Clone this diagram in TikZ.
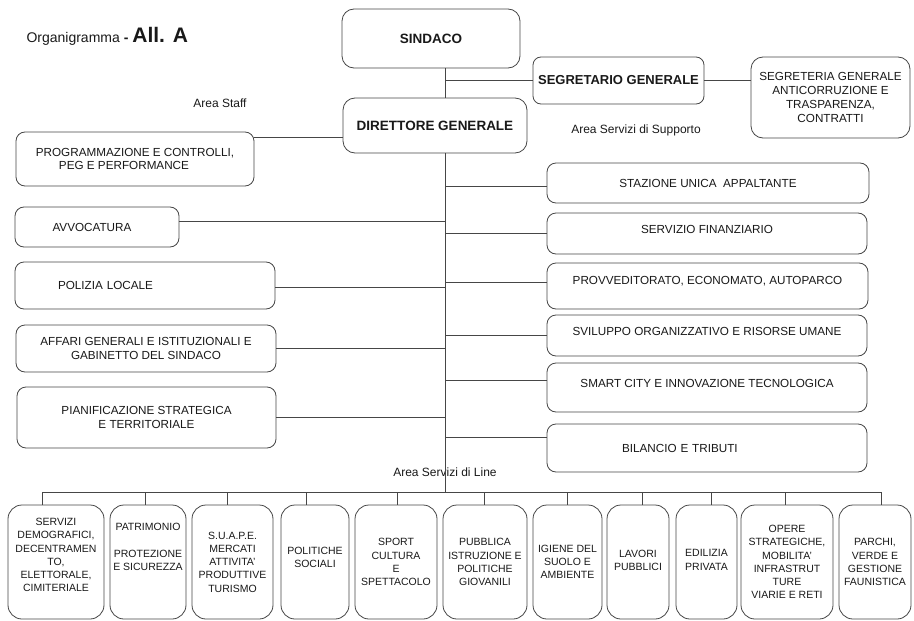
\documentclass[tikz,border=0pt]{standalone}
\usepackage{fontspec}
\setmainfont{Liberation Sans}
\definecolor{inkgray}{RGB}{25,25,25}
\definecolor{linegray}{RGB}{70,70,70}
\tikzset{
  box/.style={draw=linegray, line width=0.8pt, rounded corners=9pt, fill=white, text=inkgray,
    align=center, inner sep=1pt, font=\fontsize{11.7}{13.3}\selectfont},
  headbox/.style={box, rounded corners=12pt, font=\fontsize{13.5}{16}\selectfont\bfseries},
  linebox/.style={box, rounded corners=14pt, font=\fontsize{10.5}{13.3}\selectfont},
  arealabel/.style={text=inkgray, font=\fontsize{12}{14}\selectfont},
  link/.style={draw=linegray, line width=0.8pt},
}
\newcommand{\unitbox}[6]{%
  \node[linebox, minimum width=#3pt, minimum height=114pt, text depth=#5pt] (#1) at (#2,562) {#6};
  \draw[link] (#1.north -| #4,0) -- (#4,0 |- bus);%
}

\begin{document}
\begin{tikzpicture}[x=1pt,y=-1pt]
  \useasboundingbox (0,0) rectangle (914,621);

  \node[anchor=base west, text=inkgray, font=\fontsize{14}{16}\selectfont] (title) at (23,42)
    {Organigramma {\bfseries -} {\fontsize{21}{24}\selectfont\bfseries All. A}};

  % vertice
  \node[headbox, minimum width=178pt, minimum height=59pt] (sindaco) at (431,38.5) {SINDACO};
  \node[headbox, minimum width=184pt, minimum height=55pt] (dg) at (435,125.5) {DIRETTORE GENERALE};
  \node[headbox, rounded corners=8pt, font=\fontsize{13}{15}\selectfont\bfseries,
    minimum width=171pt, minimum height=47pt] (seg) at (618.5,80.5) {SEGRETARIO GENERALE};
  \node[box, rounded corners=12pt, font=\fontsize{11.7}{14.3}\selectfont,
    minimum width=159pt, minimum height=81pt] (segr) at (830.5,97.5)
    {SEGRETERIA GENERALE\\ANTICORRUZIONE E\\TRASPARENZA,\\CONTRATTI};

  \node[arealabel] (staff) at (220,103) {Area Staff};
  \node[arealabel] (supporto) at (636,130) {Area Servizi di Supporto};
  \node[arealabel] (linea) at (445,472) {Area Servizi di Line};

  % area staff
  \node[box, minimum width=238pt, minimum height=54pt] (prog) at (135,159)
    {PROGRAMMAZIONE E CONTROLLI,\\PEG E PERFORMANCE\hspace*{22pt}};
  \node[box, minimum width=164pt, minimum height=40pt] (avv) at (97,227) {AVVOCATURA\hspace*{10pt}};
  \node[box, minimum width=260pt, minimum height=47pt, text width=174pt, inner xsep=43pt,
    align=left] (pol) at (145,285.5) {POLIZIA LOCALE};
  \node[box, minimum width=260pt, minimum height=47pt] (aff) at (146,348.5)
    {AFFARI GENERALI E ISTITUZIONALI E\\GABINETTO DEL SINDACO};
  \node[box, minimum width=259pt, minimum height=61pt] (pian) at (146.5,417.5)
    {PIANIFICAZIONE STRATEGICA\\E TERRITORIALE};

  % area servizi di supporto
  \node[box, minimum width=322pt, minimum height=40pt] (sua) at (708,183) {STAZIONE UNICA\ \ APPALTANTE};
  \node[box, minimum width=320pt, minimum height=41pt, text depth=9pt] (fin) at (707,233.5)
    {SERVIZIO FINANZIARIO};
  \node[box, minimum width=321pt, minimum height=46pt, text depth=12pt] (prov) at (707.5,286)
    {PROVVEDITORATO, ECONOMATO, AUTOPARCO};
  \node[box, minimum width=320pt, minimum height=41pt, text depth=9pt] (svi) at (707,335.5)
    {SVILUPPO ORGANIZZATIVO E RISORSE UMANE};
  \node[box, minimum width=320pt, minimum height=49pt, text depth=9pt] (smart) at (707,387.5)
    {SMART CITY E INNOVAZIONE TECNOLOGICA};
  \node[box, minimum width=320pt, minimum height=48pt, text width=170pt, inner xsep=75pt,
    align=left] (bil) at (707,448) {BILANCIO E TRIBUTI};

  \coordinate (bus) at (445,492);
  \coordinate (busL) at (42,492);
  \coordinate (busR) at (881,492);

  \draw[link] (sindaco.south -| bus) -- (dg.north -| bus);
  \draw[link] (dg.south -| bus) -- (bus);
  \draw[link] (seg.west -| bus) -- (seg.west);
  \draw[link] (seg.east) -- (seg.east -| segr.west);
  \draw[link] (prog.east |- 0,137) -- (dg.west |- 0,137);
  \foreach \nm/\dy in {avv/6,pol/-2,aff/0,pian/0}
    \draw[link] ([yshift=\dy pt]\nm.east) -- ([yshift=\dy pt]\nm.east -| bus);
  \foreach \nm/\dy in {sua/-3,fin/0,prov/4,svi/0,smart/7,bil/11}
    \draw[link] ([yshift=\dy pt]\nm.west -| bus) -- ([yshift=\dy pt]\nm.west);
  \draw[link] (busL) -- (busR);

  % area servizi di line
  \unitbox{demo}{56}{96}{42}{14}{SERVIZI\\DEMOGRAFICI,\\DECENTRAMEN\\TO,\\ELETTORALE,\\CIMITERIALE}
  \unitbox{patr}{148}{76}{145}{30}{PATRIMONIO\\\mbox{}\\PROTEZIONE\\E SICUREZZA}
  \unitbox{suape}{232.5}{81}{227}{0}{S.U.A.P.E.\\MERCATI\\ATTIVITA'\\PRODUTTIVE\\TURISMO}
  \unitbox{soc}{315}{68}{306}{10}{POLITICHE\\SOCIALI}
  \unitbox{sport}{396}{82}{397}{0}{SPORT\\CULTURA\\E\\SPETTACOLO}
  \unitbox{istr}{485}{84}{484}{0}{PUBBLICA\\ISTRUZIONE E\\POLITICHE\\GIOVANILI}
  \unitbox{igiene}{567.5}{69}{567}{0}{IGIENE DEL\\SUOLO E\\AMBIENTE}
  \unitbox{lavori}{638}{62}{642}{4}{LAVORI\\PUBBLICI}
  \unitbox{edil}{706.5}{61}{711}{4}{EDILIZIA\\PRIVATA}
  \unitbox{opere}{787}{92}{785}{0}{OPERE\\STRATEGICHE,\\MOBILITA'\\INFRASTRUT\\TURE\\VIARIE E RETI}
  \unitbox{parchi}{875}{72}{881}{0}{PARCHI,\\VERDE E\\GESTIONE\\FAUNISTICA}
\end{tikzpicture}
\end{document}
